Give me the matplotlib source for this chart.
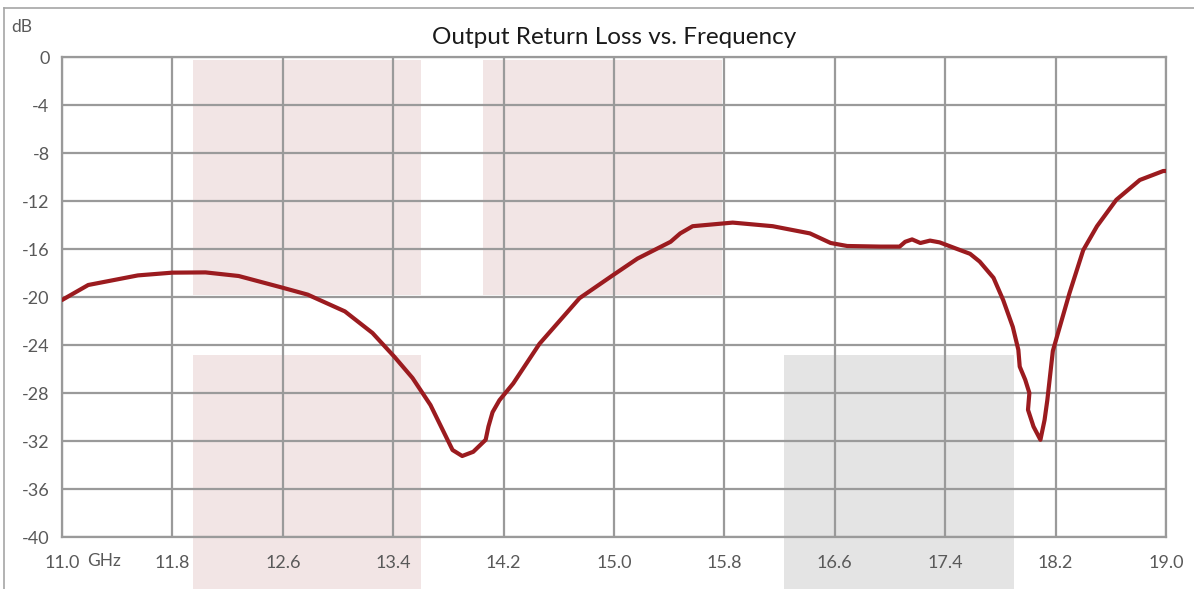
import matplotlib.pyplot as plt
from matplotlib.patches import Rectangle
from matplotlib.lines import Line2D

plt.rcParams['font.family'] = ['Lato', 'DejaVu Sans']

# Output return loss trace (GHz, dB)
freq = [11.0, 11.19, 11.55, 11.80, 12.04, 12.28, 12.59, 12.78, 13.05, 13.25,
        13.41, 13.54, 13.67, 13.83, 13.9, 13.98, 14.07, 14.09, 14.12, 14.17,
        14.27, 14.46, 14.75, 14.99, 15.17, 15.41, 15.48, 15.57, 15.86, 16.15,
        16.42, 16.57, 16.69, 16.93, 17.07, 17.11, 17.16, 17.22, 17.29, 17.36,
        17.51, 17.58, 17.65, 17.75, 17.82, 17.89, 17.93, 17.94, 17.98, 18.01,
        18.0, 18.04, 18.09, 18.12, 18.14, 18.18, 18.30, 18.40, 18.50, 18.64,
        18.81, 18.98, 19.0]
rloss = [-20.25, -19.0, -18.2, -17.97, -17.95, -18.25, -19.2, -19.8, -21.2, -23.0,
         -25.0, -26.75, -29.0, -32.75, -33.25, -32.9, -31.9, -30.8, -29.6, -28.6,
         -27.2, -23.9, -20.1, -18.2, -16.8, -15.4, -14.7, -14.1, -13.8, -14.1,
         -14.7, -15.5, -15.75, -15.8, -15.8, -15.4, -15.2, -15.5, -15.3, -15.45,
         -16.1, -16.4, -17.05, -18.4, -20.25, -22.5, -24.4, -25.8, -26.9, -28.0,
         -29.4, -30.8, -31.9, -30.25, -28.6, -24.5, -19.7, -16.1, -14.1, -11.9,
         -10.25, -9.5, -9.5]

xticks = [11.0, 11.8, 12.6, 13.4, 14.2, 15.0, 15.8, 16.6, 17.4, 18.2, 19.0]
yticks = [0, -4, -8, -12, -16, -20, -24, -28, -32, -36, -40]

# spec mask boxes: (x0, x1, y0, y1, colour)
masks = [
    (11.95, 13.6, -19.8, -0.25, '#f2e5e5'),
    (11.95, 13.6, -44.5, -24.8, '#f2e5e5'),
    (14.05, 15.78, -19.8, -0.25, '#f2e5e5'),
    (16.23, 17.9, -44.5, -24.8, '#e4e4e4'),
]

fig = plt.figure(figsize=(11.94, 5.89), dpi=100)
ax = fig.add_axes([62 / 1194, 1 - 537 / 589, 1104 / 1194, 480 / 589])

for x0, x1, y0, y1, c in masks:
    ax.add_patch(Rectangle((x0, y0), x1 - x0, y1 - y0, facecolor=c,
                           edgecolor='none', zorder=0, clip_on=False))

ax.plot(freq, rloss, color='#9b1b1f', lw=3.0, solid_capstyle='round',
        solid_joinstyle='round', zorder=3)

ax.set_xlim(11.0, 19.0)
ax.set_ylim(-40, 0)
ax.set_xticks(xticks)
ax.set_yticks(yticks)
ax.set_xticklabels([f'{v:.1f}' for v in xticks])
ax.set_yticklabels([str(v) for v in yticks])
ax.set_facecolor('none')
ax.grid(True, color='#9a9a9a', lw=1.6, zorder=1)
for s in ax.spines.values():
    s.set_color('#9a9a9a')
    s.set_linewidth(1.6)
    s.set_zorder(2)
ax.tick_params(length=0, labelsize=13, labelcolor='#595959', pad=9)
ax.tick_params(axis='x', pad=13)
for gl in ax.get_xgridlines() + ax.get_ygridlines():
    gl.set_zorder(1)

ax.set_title('Output Return Loss vs. Frequency', fontsize=17.5,
             color='#1a1a1a', pad=9)
fig.text(22 / 1194, 1 - 27 / 589, 'dB', fontsize=12.5, color='#595959',
         ha='center', va='center')
fig.text(104 / 1194, 1 - 561 / 589, 'GHz', fontsize=12.5, color='#595959',
         ha='center', va='center')

# outer chart frame
fig.add_artist(Line2D([4 / 1194, 4 / 1194], [0, 1 - 8 / 589],
                      transform=fig.transFigure, color='#a6a6a6', lw=1.2))
fig.add_artist(Line2D([4 / 1194, 1], [1 - 8 / 589, 1 - 8 / 589],
                      transform=fig.transFigure, color='#a6a6a6', lw=1.2))

fig.savefig('out.png', dpi=100)
